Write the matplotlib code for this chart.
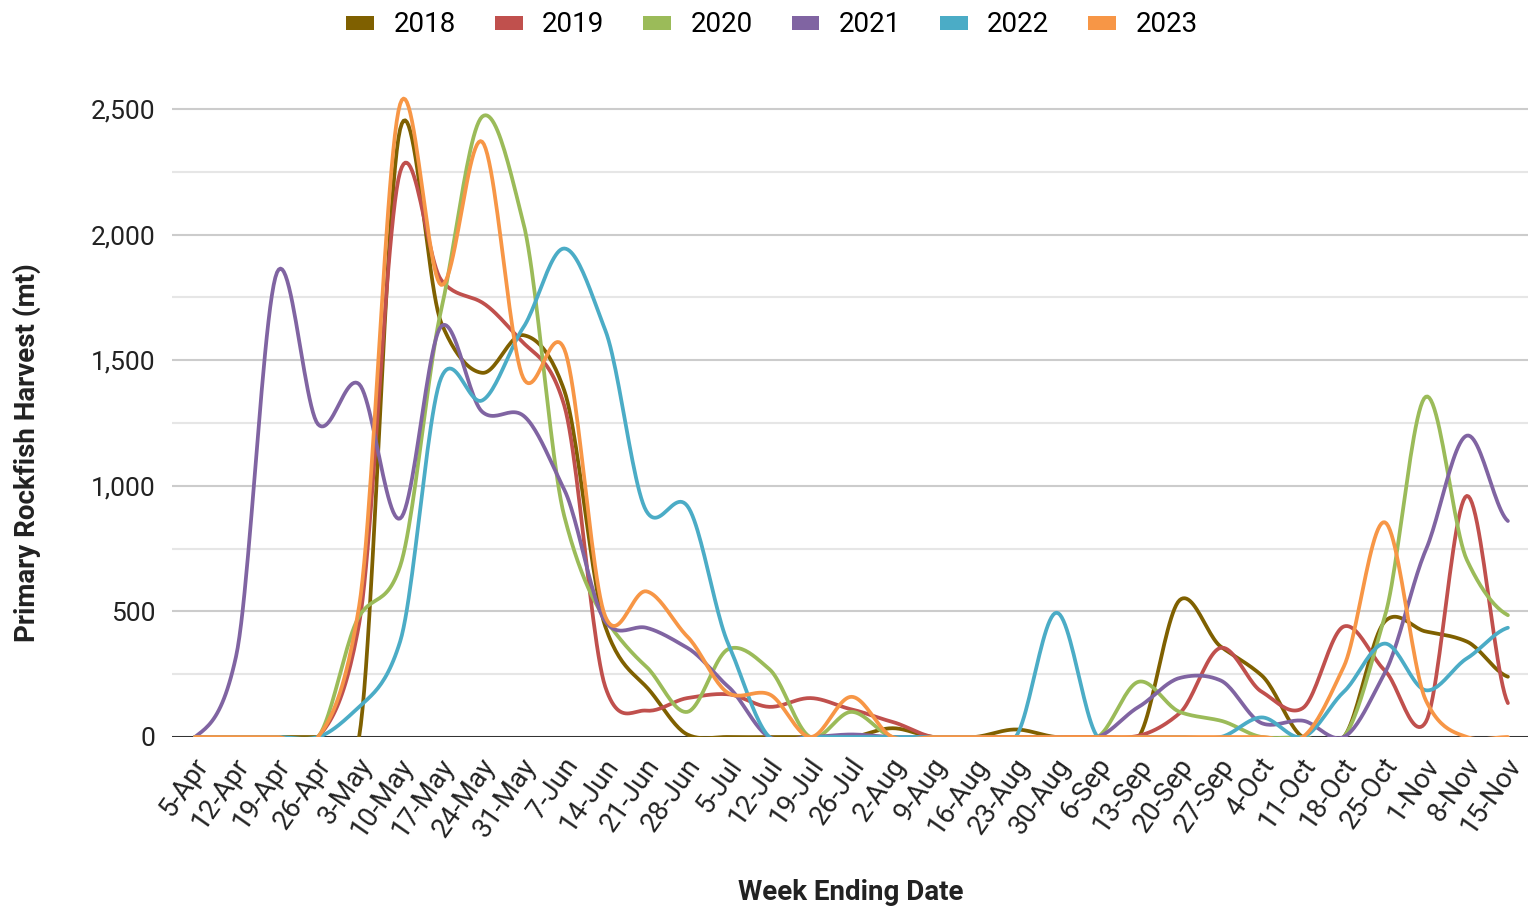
import numpy as np
import matplotlib.pyplot as plt
from matplotlib.patches import Patch
from matplotlib.ticker import FuncFormatter
from matplotlib.transforms import ScaledTranslation

plt.rcParams['font.family'] = ['Roboto', 'DejaVu Sans']

weeks = ["5-Apr", "12-Apr", "19-Apr", "26-Apr", "3-May", "10-May", "17-May", "24-May",
         "31-May", "7-Jun", "14-Jun", "21-Jun", "28-Jun", "5-Jul", "12-Jul", "19-Jul",
         "26-Jul", "2-Aug", "9-Aug", "16-Aug", "23-Aug", "30-Aug", "6-Sep", "13-Sep",
         "20-Sep", "27-Sep", "4-Oct", "11-Oct", "18-Oct", "25-Oct", "1-Nov", "8-Nov", "15-Nov"]

h2018 = [0, 0, 0, 0, 0, 2420, 1650, 1450, 1600, 1380, 440, 200, 10, 0, 0, 0, 0,
         35, 0, 0, 30, 0, 0, 0, 545, 360, 245, 0, 0, 460, 420, 380, 240]
h2019 = [0, 0, 0, 0, 450, 2250, 1820, 1730, 1570, 1320, 200, 105, 155, 170, 120, 155, 110,
         60, 0, 0, 0, 0, 0, 5, 95, 355, 180, 115, 440, 265, 60, 960, 135]
h2020 = [0, 0, 0, 0, 480, 680, 1700, 2470, 2050, 880, 470, 280, 100, 350, 270, 0, 100,
         0, 0, 0, 0, 0, 0, 220, 100, 65, 0, 0, 0, 480, 1355, 705, 485]
h2021 = [0, 320, 1850, 1245, 1405, 870, 1635, 1295, 1280, 985, 460, 435, 355, 200, 0, 0, 10,
         0, 0, 0, 0, 0, 0, 120, 235, 225, 55, 65, 0, 255, 745, 1200, 860]
h2022 = [0, 0, 0, 0, 120, 380, 1430, 1340, 1630, 1945, 1620, 900, 920, 370, 0, 0, 0,
         0, 0, 0, 0, 495, 0, 0, 0, 0, 78, 0, 180, 372, 186, 313, 435]
h2023 = [0, 0, 0, 0, 520, 2520, 1800, 2370, 1430, 1545, 480, 580, 400, 175, 170, 0, 160,
         0, 0, 0, 0, 0, 0, 0, 0, 0, 0, 0, 280, 855, 146, 0, 0]

years = ["2018", "2019", "2020", "2021", "2022", "2023"]
series = [h2018, h2019, h2020, h2021, h2022, h2023]
colors = ["#7f6000", "#c0504d", "#9bbb59", "#8064a2", "#4bacc6", "#f79646"]


def smooth(vals, steps=24, k=0.4):
    # cardinal spline through the weekly points
    y = np.asarray(vals, dtype=float)
    n = len(y)
    m = np.zeros(n)
    m[1:-1] = (y[2:] - y[:-2]) * k
    m[0] = (y[1] - y[0]) * k
    m[-1] = (y[-1] - y[-2]) * k
    xs, ys = [], []
    t = np.linspace(0, 1, steps, endpoint=False)
    h00 = 2 * t**3 - 3 * t**2 + 1
    h10 = t**3 - 2 * t**2 + t
    h01 = -2 * t**3 + 3 * t**2
    h11 = t**3 - t**2
    for i in range(n - 1):
        xs.append(i + t)
        ys.append(h00 * y[i] + h10 * m[i] + h01 * y[i + 1] + h11 * m[i + 1])
    xs.append([n - 1])
    ys.append([y[-1]])
    return np.concatenate(xs), np.concatenate(ys)


fig = plt.figure(figsize=(15.28, 9.07), dpi=100)
ax = fig.add_axes([172 / 1528, 170 / 907, 1356 / 1528, 653 / 907])

for v in range(250, 2600, 500):
    ax.axhline(v, color="#e6e6e6", lw=1.5, zorder=0)
for v in range(500, 2600, 500):
    ax.axhline(v, color="#cccccc", lw=1.5, zorder=0)
ax.axhline(0, color="#333333", lw=2.2, zorder=1)

for name, vals, c in zip(years, series, colors):
    xs, ys = smooth(vals)
    ax.plot(xs, ys, color=c, lw=2.7, solid_capstyle="round", zorder=2)

ax.set_xlim(-0.56, 32.49)
ax.set_ylim(0, 2600)
ax.set_yticks(range(0, 2501, 500))
ax.yaxis.set_major_formatter(FuncFormatter(lambda v, p: f"{int(v):,}"))
ax.set_xticks(range(len(weeks)))
ax.set_xticklabels(weeks, rotation=55, ha="right", va="center", rotation_mode="anchor")
ax.tick_params(axis="both", length=0, labelsize=19, colors="#222222")
ax.tick_params(axis="x", labelsize=19.5)
ax.tick_params(axis="y", pad=12)
ax.tick_params(axis="x", pad=17)
shift = ScaledTranslation(8 / 100, 0, fig.dpi_scale_trans)
for lab in ax.get_xticklabels():
    lab.set_transform(lab.get_transform() + shift)
for s in ax.spines.values():
    s.set_visible(False)

fig.text(27 / 1528, 1 - 453 / 907, "Primary Rockfish Harvest (mt)", rotation=90,
         ha="center", va="center", fontsize=20, fontweight="bold", color="#222222")
fig.text(851 / 1528, 1 - 893 / 907, "Week Ending Date", ha="center", va="center",
         fontsize=20, fontweight="bold", color="#222222")

handles = [Patch(facecolor=c, edgecolor="none") for c in colors]
fig.legend(handles, years, loc="center", bbox_to_anchor=(772 / 1528, 1 - 25 / 907),
           ncol=6, frameon=False, fontsize=20, handlelength=1.0, handleheight=0.4,
           handletextpad=0.7, columnspacing=1.4)

fig.savefig("out.png", dpi=100)
